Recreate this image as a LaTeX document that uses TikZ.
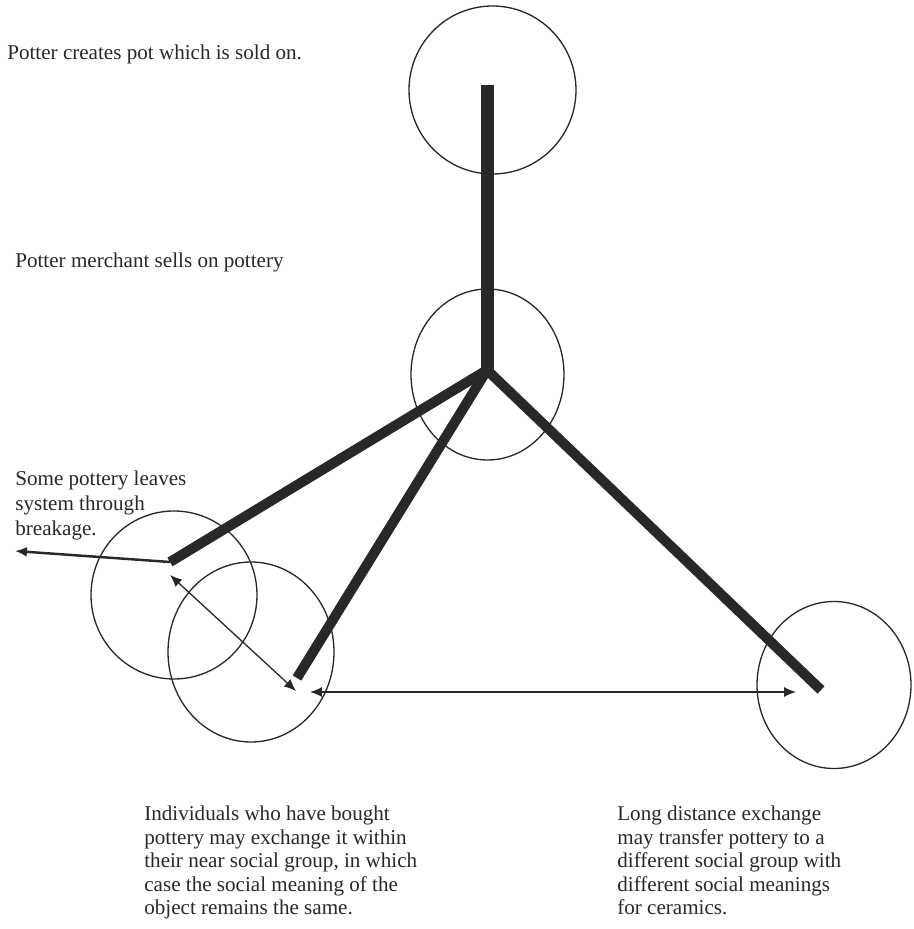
\documentclass[tikz,border=0pt]{standalone}
\usepackage{fontspec}
\setmainfont{Liberation Serif}
\usepackage{xcolor}
\usetikzlibrary{positioning, arrows.meta, shapes.geometric}

\definecolor{ink}{RGB}{40,40,40}
\tikzset{
  pot/.style={ellipse, draw=ink, line width=0.75pt, inner sep=0pt},
  route/.style={draw=ink, line width=5.7pt, line join=miter},
  swap/.style={draw=ink, line width=0.75pt, {Latex[length=6.8pt,width=5.7pt]}-{Latex[length=6.8pt,width=5.7pt]}},
  loss/.style={draw=ink, line width=1.4pt, -{Latex[length=6.8pt,width=5.7pt]}},
  note/.style={anchor=north west, inner sep=0pt, align=left, text=ink, font=\fontsize{12}{13.3}\selectfont},
}

\begin{document}
\begin{tikzpicture}
  \useasboundingbox (0,0) rectangle (18.26,18.58);
  % groups holding the pot
  \node[pot, minimum width=3.34cm, minimum height=3.36cm] (potter) at (9.85,16.78) {};
  \node[pot, minimum width=3.06cm, minimum height=3.42cm] (merchant) at (9.75,11.09) {};
  \node[pot, minimum width=3.32cm, minimum height=3.36cm] (buyer) at (3.48,6.68) {};
  \node[pot, minimum width=3.32cm, minimum height=3.60cm] (kin) at (5.02,5.54) {};
  \node[pot, minimum width=3.08cm, minimum height=3.34cm] (far) at (16.68,4.88) {};

  % ends of the routes
  \coordinate (make) at (9.74,16.88);
  \coordinate (hub) at (9.74,11.18);
  \coordinate (sold) at (3.40,7.34);
  \coordinate (near) at (5.94,5.02);
  \coordinate (away) at (16.42,4.78);
  \coordinate (broken) at (0.30,7.56);
  \coordinate (swapA) at (3.40,7.08);
  \coordinate (swapB) at (5.92,4.76);
  \coordinate (tradeA) at (6.20,4.74);
  \coordinate (tradeB) at (15.92,4.74);

  \begin{scope}
    \draw[route, line width=7.4pt] (make) -- (hub);
    \draw[route] (sold) -- (hub) -- (away);
    \draw[route] (hub) -- (near);
    \draw[loss] (sold) -- (broken);
    \draw[swap] (swapA) -- (swapB);
    \draw[swap] (tradeA) -- (tradeB);
  \end{scope}

  % labels
  \node[note] (makelbl) at (0.14,17.69) {Potter creates pot which is sold on.};
  \node[note] (selllbl) at (0.30,13.53) {Potter merchant sells on pottery};
  \node[note, font=\fontsize{12}{14.2}\selectfont] (losslbl) at (0.30,9.16) {Some pottery leaves\\system through\\breakage.};
  \node[note] (kinlbl) at (2.88,2.46) {Individuals who have bought\\pottery may exchange it within\\their near social group, in which\\case the social meaning of the\\object remains the same.};
  \node[note] (farlbl) at (12.34,2.46) {Long distance exchange\\may transfer pottery to a\\different social group with\\different social meanings\\for ceramics.};
\end{tikzpicture}
\end{document}
